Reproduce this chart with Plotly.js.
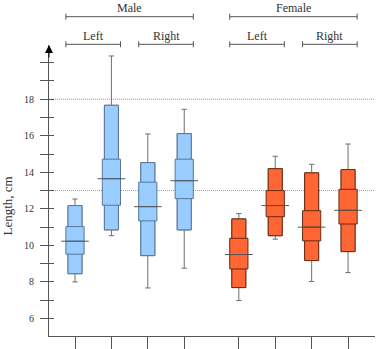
<!DOCTYPE html>
<html>
<head>
<meta charset="utf-8">
<script src="https://cdn.plot.ly/plotly-3.0.1.min.js"></script>
<style>html,body{margin:0;padding:0;background:#fff;}#chart{width:382px;height:349px;}</style>
</head>
<body>
<div id="chart"></div>
<script>
// ---- data ----
const sexes = ['Male', 'Male', 'Male', 'Male', 'Female', 'Female', 'Female', 'Female'];
const sides = ['Left', 'Left', 'Right', 'Right', 'Left', 'Left', 'Right', 'Right'];
const whiskerLow  = [8.00, 10.53, 7.67, 8.75, 6.98, 10.34, 8.02, 8.51];
const boxLow      = [8.45, 10.85, 9.44, 10.85, 7.69, 10.53, 9.17, 9.66];
const innerLow    = [9.52, 12.20, 11.34, 12.56, 8.71, 11.57, 10.25, 11.17];
const medians     = [10.23, 13.65, 12.12, 13.54, 9.50, 12.18, 11.00, 11.92];
const innerHigh   = [11.03, 14.72, 13.46, 14.72, 10.39, 13.00, 11.90, 13.07];
const boxHigh     = [12.18, 17.67, 14.53, 16.12, 11.45, 14.20, 13.97, 14.15];
const whiskerHigh = [12.54, 20.37, 16.10, 17.45, 11.74, 14.88, 14.44, 15.55];
const refLines = [13, 18];
const yTickVals = [6, 7, 8, 9, 10, 11, 12, 13, 14, 15, 16, 17, 18, 19, 20];
const yTickText = ['6', '', '8', '', '10', '', '12', '', '14', '', '16', '', '18', '', ''];
const yTitle = 'Length, cm';

// ---- layout helpers ----
const pos = [];
{
  let p = 0, prev = null;
  sexes.forEach((s, i) => { p += (prev !== null && s !== prev) ? 1.5 : 1; pos.push(p); prev = s; });
}
const colors = { Male: { fill: '#99ccff', line: '#56789a' }, Female: { fill: '#ff6633', line: '#6a2a12' } };
const whiskerColor = '#6e6e6e';
const font = '"Liberation Serif", "DejaVu Serif", serif';

const traces = [];
['Male', 'Female'].forEach(sex => {
  const idx = sexes.map((s, i) => s === sex ? i : -1).filter(i => i >= 0);
  const pick = arr => idx.map(i => arr[i]);
  const xs = pick(pos);
  const common = { type: 'box', x: xs, hoverinfo: 'skip', showlegend: false, boxpoints: false };
  // whiskers
  traces.push(Object.assign({}, common, {
    q1: pick(boxLow), q3: pick(boxHigh), median: pick(medians),
    lowerfence: pick(whiskerLow), upperfence: pick(whiskerHigh),
    width: 0.385, whiskerwidth: 0.38, fillcolor: colors[sex].fill,
    line: { color: whiskerColor, width: 1 }
  }));
  // outer box
  traces.push(Object.assign({}, common, {
    q1: pick(boxLow), q3: pick(boxHigh), median: pick(medians),
    lowerfence: pick(boxLow), upperfence: pick(boxHigh),
    width: 0.385, whiskerwidth: 0, fillcolor: colors[sex].fill,
    line: { color: colors[sex].line, width: 1 }
  }));
  // inner (wide) box
  traces.push(Object.assign({}, common, {
    q1: pick(innerLow), q3: pick(innerHigh), median: pick(medians),
    lowerfence: pick(innerLow), upperfence: pick(innerHigh),
    width: 0.5, whiskerwidth: 0, fillcolor: colors[sex].fill,
    line: { color: colors[sex].line, width: 1 }
  }));
});
// median lines extending past boxes
const mx = [], my = [];
pos.forEach((p, i) => { mx.push(p - 0.38, p + 0.38, null); my.push(medians[i], medians[i], null); });
traces.push({ type: 'scatter', mode: 'lines', x: mx, y: my, hoverinfo: 'skip', showlegend: false,
  line: { color: '#555555', width: 1 } });
// dummy trace to make the inside-tick overlay axis render
traces.push({ type: 'scatter', mode: 'markers', x: [pos[0]], y: [10], yaxis: 'y2', marker: { opacity: 0 }, hoverinfo: 'skip', showlegend: false });

// brackets
const shapes = [];
const annotations = [];
const plotTop = 45, plotBottom = 336, plotH = plotBottom - plotTop;
const py = px => (plotBottom - px) / plotH;
function bracket(x0, x1, linePx, textPx, label) {
  const c = '#555555';
  shapes.push({ type: 'line', xref: 'x', yref: 'paper', x0: x0, x1: x1, y0: py(linePx), y1: py(linePx), line: { color: c, width: 1 } });
  [x0, x1].forEach(x => shapes.push({ type: 'line', xref: 'x', yref: 'paper', x0: x, x1: x, y0: py(linePx - 3), y1: py(linePx + 3), line: { color: c, width: 1 } }));
  annotations.push({ xref: 'x', yref: 'paper', x: (x0 + x1) / 2, y: py(textPx), text: label, showarrow: false,
    xanchor: 'center', yanchor: 'middle', font: { family: font, size: 12, color: '#333' } });
}
['Male', 'Female'].forEach(sex => {
  const idx = sexes.map((s, i) => s === sex ? i : -1).filter(i => i >= 0);
  bracket(pos[idx[0]] - 0.25, pos[idx[idx.length - 1]] + 0.25, 16.7, 8, sex);
  ['Left', 'Right'].forEach(side => {
    const j = idx.filter(i => sides[i] === side);
    bracket(pos[j[0]] - 0.25, pos[j[j.length - 1]] + 0.25, 44.3, 36, side);
  });
});
refLines.forEach(v => shapes.push({ type: 'line', xref: 'paper', yref: 'y', x0: 0, x1: 1, y0: v, y1: v,
  line: { color: '#9a9a9a', width: 1, dash: '1px,1px' }, layer: 'below' }));

annotations.push({ xref: 'paper', yref: 'paper', x: 0, y: 1, ax: 0, ay: 14, text: '', showarrow: true,
  arrowhead: 2, arrowsize: 1.6, arrowwidth: 1, arrowcolor: '#000' });
annotations.push({ xref: 'paper', yref: 'paper', x: (6.5 - 49) / 326, y: py(206), text: yTitle, textangle: -90,
  showarrow: false, xanchor: 'center', yanchor: 'middle', font: { family: font, size: 13, color: '#333' } });

const yr = [5.04, 20.97];
const layout = {
  width: 382, height: 349,
  margin: { l: 49, r: 7, t: plotTop, b: 349 - plotBottom, pad: 0 },
  paper_bgcolor: '#fff', plot_bgcolor: '#fff',
  boxmode: 'overlay', showlegend: false,
  font: { family: font, size: 10, color: '#333' },
  xaxis: { range: [0.286, 9.24], showgrid: false, zeroline: false, showline: true, linecolor: '#555', linewidth: 1,
    ticks: 'outside', ticklen: 13, tickcolor: '#555', tickvals: pos, showticklabels: false, fixedrange: true },
  yaxis: { range: yr, showgrid: false, zeroline: false, showline: true, linecolor: '#555', linewidth: 1,
    ticks: 'outside', ticklen: 8, tickcolor: '#555', tickvals: yTickVals, ticktext: yTickText,
    ticklabelstandoff: 4, tickfont: { family: font, size: 10, color: '#333' }, fixedrange: true },
  yaxis2: { range: yr, overlaying: 'y', side: 'left', showgrid: false, zeroline: false, showline: false,
    ticks: 'inside', ticklen: 5, tickcolor: '#555', tickvals: yTickVals, showticklabels: false, fixedrange: true },
  shapes: shapes, annotations: annotations
};
Plotly.newPlot('chart', traces, layout, { staticPlot: true, displayModeBar: false });
</script>
</body>
</html>
